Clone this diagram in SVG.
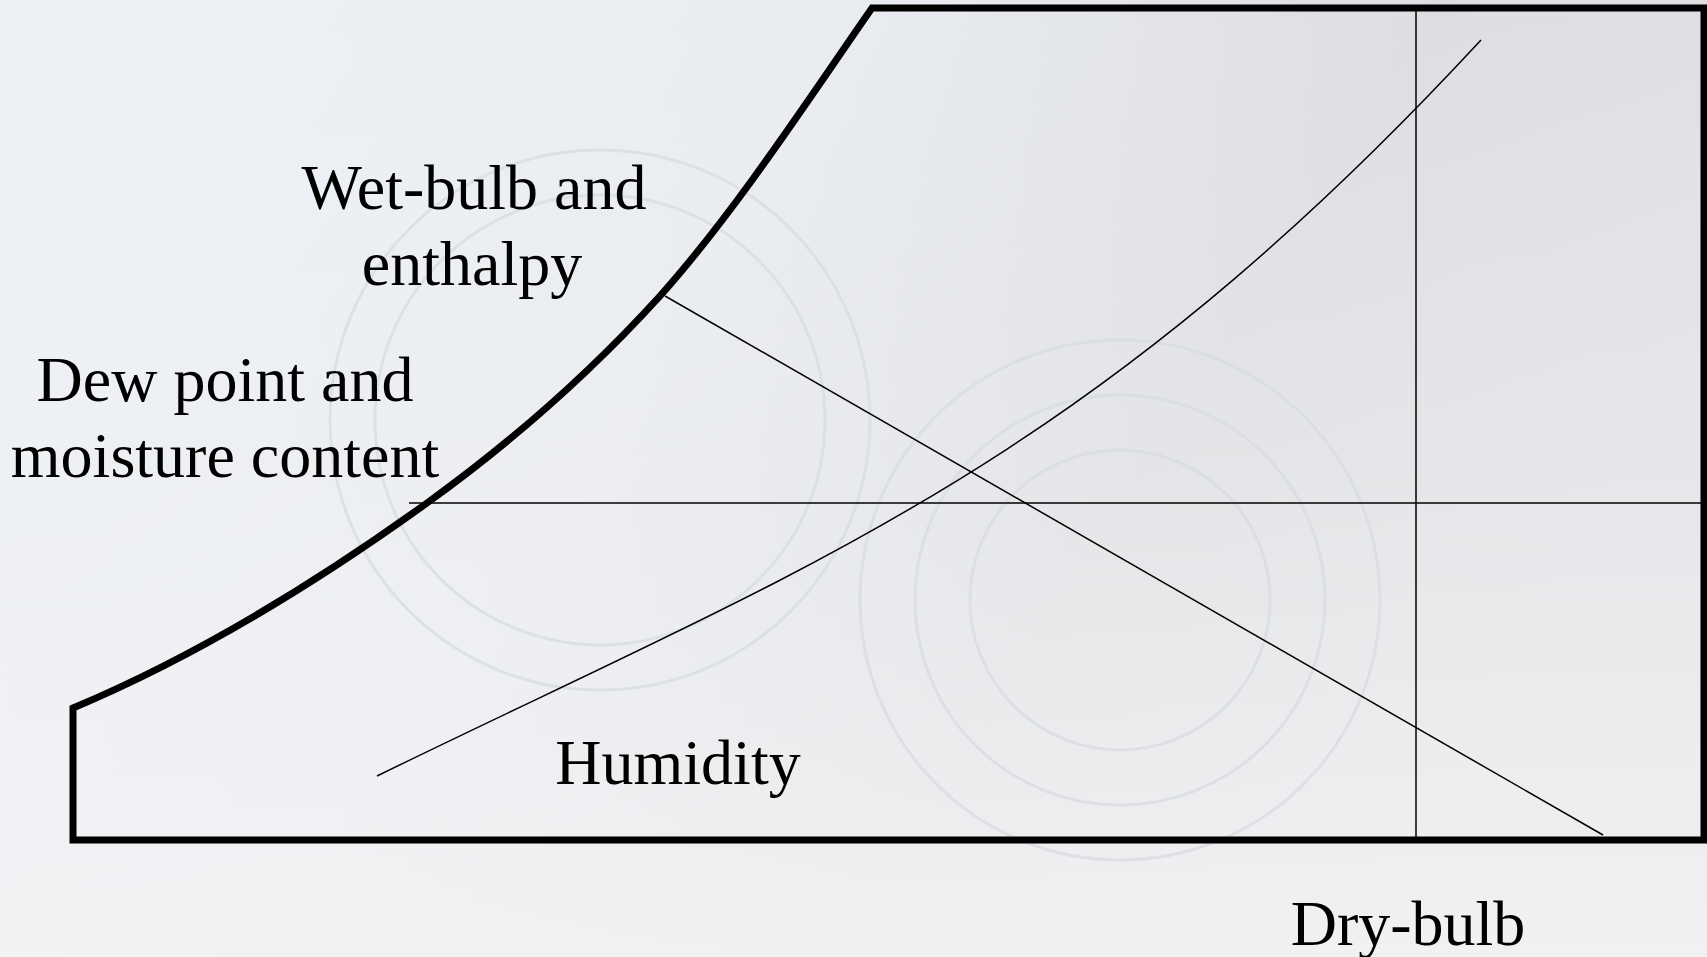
<svg xmlns="http://www.w3.org/2000/svg" width="1707" height="957" viewBox="0 0 1707 957">
  <defs>
    <linearGradient id="bg" x1="0" y1="0" x2="1" y2="0.35">
      <stop offset="0" stop-color="#eef2f7"/>
      <stop offset="0.45" stop-color="#e9ecf0"/>
      <stop offset="0.75" stop-color="#dddee1"/>
      <stop offset="1" stop-color="#e0e1e4"/>
    </linearGradient>
    <linearGradient id="bgfade" x1="0" y1="0" x2="0" y2="1">
      <stop offset="0" stop-color="#f2f2f4" stop-opacity="0"/>
      <stop offset="0.5" stop-color="#f2f2f4" stop-opacity="0.35"/>
      <stop offset="1" stop-color="#f3f3f5" stop-opacity="0.9"/>
    </linearGradient>
    <style>
      .lbl { font-family: "Liberation Serif", "Times New Roman", serif; font-size: 64px; fill: #000; text-anchor: middle; }
      .thick { fill: none; stroke: #000; stroke-width: 7; stroke-linejoin: miter; }
      .thin { fill: none; stroke: #000; stroke-width: 1.5; }
      .deco { fill: none; stroke: #d6dbe1; stroke-width: 3; opacity: 0.7; }
    </style>
  </defs>
  <rect x="0" y="0" width="1707" height="957" fill="url(#bg)"/>
  <rect x="0" y="0" width="1707" height="957" fill="url(#bgfade)"/>
  <g id="background-decoration">
    <circle class="deco" cx="600" cy="420" r="270"/>
    <circle class="deco" cx="600" cy="420" r="225"/>
    <circle class="deco" cx="1120" cy="600" r="260"/>
    <circle class="deco" cx="1120" cy="600" r="205"/>
    <circle class="deco" cx="1120" cy="600" r="150"/>
  </g>
  <g id="chart-outline">
    <path class="thick" d="M 73 708 L 73 840 L 1704 840 L 1704 8 L 872 8 C 808 100 735 212 660 296 C 582.3 381.5 504.7 447 427 503 C 309 588 191 658.4 73 708 Z"/>
  </g>
  <g id="connectors">
    <line id="dew-point-line" class="thin" x1="409" y1="503" x2="1704" y2="503"/>
    <line id="dry-bulb-line" class="thin" x1="1416" y1="8" x2="1416" y2="840"/>
    <line id="wet-bulb-line" class="thin" x1="665" y1="296" x2="1603" y2="835"/>
    <path id="humidity-curve" class="thin" d="M 377 776 C 800 569 1080 473 1481 40"/>
  </g>
  <g id="label-wet-bulb">
    <text class="lbl" x="474" y="209">Wet-bulb and</text>
    <text class="lbl" x="472" y="285">enthalpy</text>
  </g>
  <g id="label-dew-point">
    <text class="lbl" x="225" y="401">Dew point and</text>
    <text class="lbl" x="225" y="477">moisture content</text>
  </g>
  <g id="label-humidity">
    <text class="lbl" x="678" y="784">Humidity</text>
  </g>
  <g id="label-dry-bulb">
    <text class="lbl" x="1408" y="945">Dry-bulb</text>
  </g>
</svg>
